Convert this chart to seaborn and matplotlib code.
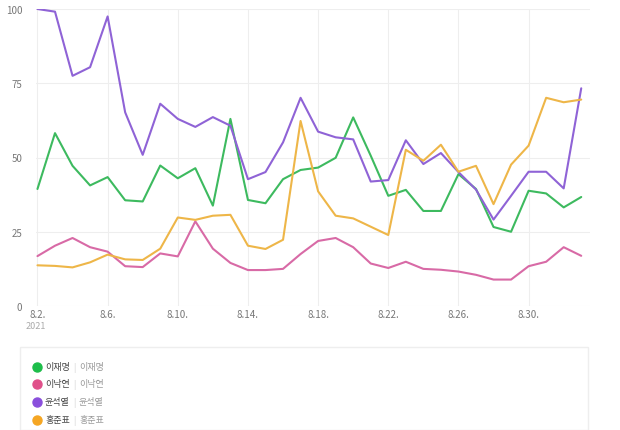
import pandas as pd
import matplotlib.pyplot as plt
from matplotlib.lines import Line2D
from matplotlib.patches import Rectangle
import seaborn as sns

# ## Data (2021-08-02 .. 2021-09-02)
dates = pd.date_range("2021-08-02", "2021-09-02", freq="D")

lee_jm = [39.4, 58.2, 47.2, 40.6, 43.4, 35.6, 35.2, 47.3, 43.0, 46.4, 33.8, 63.0,
          35.7, 34.6, 42.7, 45.8, 46.6, 49.9, 63.5, 50.6, 37.1, 39.1, 32.0, 32.0,
          44.4, 39.4, 26.6, 25.0, 38.8, 37.9, 33.2, 36.7]
lee_ny = [16.8, 20.3, 22.9, 19.8, 18.3, 13.4, 13.1, 17.7, 16.7, 28.5, 19.3, 14.5,
          12.1, 12.1, 12.5, 17.5, 21.9, 22.9, 19.8, 14.3, 12.8, 14.9, 12.5, 12.2,
          11.6, 10.5, 8.9, 8.9, 13.4, 14.9, 19.8, 16.9]
yoon = [100.0, 99.1, 77.5, 80.4, 97.5, 65.2, 50.9, 68.1, 63.0, 60.3, 63.6, 60.7,
        42.7, 45.1, 55.1, 70.1, 58.7, 56.8, 56.1, 41.9, 42.4, 55.8, 47.8, 51.5,
        45.1, 39.2, 29.1, 37.1, 45.2, 45.2, 39.6, 73.3]
hong = [13.7, 13.5, 13.0, 14.7, 17.3, 15.7, 15.5, 19.3, 29.8, 29.0, 30.4, 30.7,
        20.3, 19.2, 22.3, 62.3, 38.6, 30.4, 29.5, 26.7, 23.9, 52.6, 48.9, 54.3,
        45.2, 47.2, 34.3, 47.6, 54.0, 70.1, 68.6, 69.5]

names = ["이재명", "이낙연", "윤석열", "홍준표"]
line_colors = ["#3dba5f", "#d86aa6", "#8f63d6", "#eeb648"]
dot_colors = ["#1dbd4a", "#e0508a", "#8a4fdc", "#f5a623"]
y_ticks = [0, 25, 50, 75, 100]

df = pd.DataFrame({"date": list(dates) * 4,
                   "value": lee_jm + lee_ny + yoon + hong,
                   "name": [n for n in names for _ in dates]})

sns.set_theme(style="white")
plt.rcParams['font.family'] = ['Noto Sans CJK KR', 'DejaVu Sans']

fig = plt.figure(figsize=(6.2, 4.31), dpi=100)
ax = fig.add_axes([36 / 620, 1 - 307 / 431, (590 - 36) / 620, (307 - 10) / 431])

sns.lineplot(data=df, x="date", y="value", hue="name", hue_order=names,
             palette=dict(zip(names, line_colors)), linewidth=1.5,
             legend=False, ax=ax)

ax.set_xlim(dates[0] - pd.Timedelta(hours=2), dates[0] + pd.Timedelta(days=31.5))
ax.set_ylim(0, 100)
ax.set_xlabel("")
ax.set_ylabel("")

tick_dates = dates[::4]
ax.set_xticks(tick_dates)
ax.set_xticklabels([f"{d.month}.{d.day}." for d in tick_dates])
ax.set_yticks(y_ticks)
ax.set_yticklabels([str(v) for v in y_ticks])
ax.tick_params(axis="both", length=0, labelsize=7, colors="#777777")
ax.tick_params(axis="x", pad=2)
ax.tick_params(axis="y", pad=10)

ax.grid(True, color="#eeeeee", linewidth=0.8)
for s in ax.spines.values():
    s.set_visible(False)

fig.text(36 / 620, 1 - 327 / 431, "2021", fontsize=6.5, color="#aaaaaa",
         ha="center", va="center")

# legend box
fig.patches.append(Rectangle((20 / 620, 0), (588 - 20) / 620, 1 - 348 / 431,
                             transform=fig.transFigure, facecolor="white",
                             edgecolor="#eeeeee", linewidth=1))
rows = [368, 385, 403, 421]
for name, col, yy in zip(names, dot_colors, rows):
    y = 1 - yy / 431
    fig.add_artist(Line2D([37 / 620], [y], marker="o", markersize=6.5,
                          color=col, transform=fig.transFigure))
    fig.text(45 / 620, y, name, fontsize=6.5, color="#444444", va="center")
    fig.text(73 / 620, y, "|", fontsize=6, color="#cccccc", va="center")
    fig.text(79 / 620, y, name, fontsize=6.5, color="#999999", va="center")

fig.savefig("out.png", dpi=100)
